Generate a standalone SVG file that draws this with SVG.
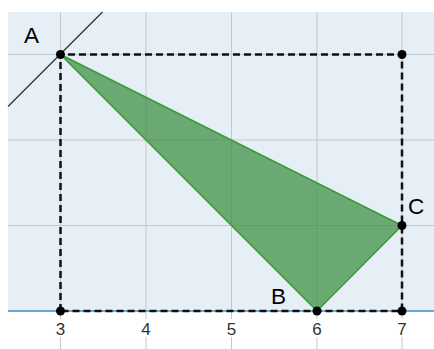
<svg xmlns="http://www.w3.org/2000/svg" width="434" height="349" viewBox="0 0 434 349">
<style>
.grid{stroke:#c4c8cc;stroke-width:1}
.dash{stroke:#111;stroke-width:2.5;stroke-dasharray:7,4;fill:none}
.dot{fill:#000}
.lbl{font-family:"Liberation Sans",Arial,sans-serif;font-size:22.5px;fill:#000}
.num{font-family:"Liberation Sans",Arial,sans-serif;font-size:17px;fill:#333;text-anchor:middle}
</style>
<rect x="0" y="0" width="434" height="349" fill="#ffffff"/>
<rect x="8" y="12" width="426" height="299" fill="#e6eef6"/>
<g id="grid">
<line class="grid" x1="60.5" y1="12" x2="60.5" y2="349"/>
<line class="grid" x1="146" y1="12" x2="146" y2="349"/>
<line class="grid" x1="231.5" y1="12" x2="231.5" y2="349"/>
<line class="grid" x1="317" y1="12" x2="317" y2="349"/>
<line class="grid" x1="402" y1="12" x2="402" y2="349"/>
<line class="grid" x1="8" y1="54.5" x2="434" y2="54.5"/>
<line class="grid" x1="8" y1="140" x2="434" y2="140"/>
<line class="grid" x1="8" y1="225.5" x2="434" y2="225.5"/>
</g>
<line x1="8" y1="311" x2="434" y2="311" stroke="#3d8fc0" stroke-width="1.5"/>
<g id="axis-labels">
<rect x="54" y="319" width="13" height="18" fill="#fff"/>
<rect x="140" y="319" width="13" height="18" fill="#fff"/>
<rect x="225" y="319" width="13" height="18" fill="#fff"/>
<rect x="311" y="319" width="13" height="18" fill="#fff"/>
<rect x="396" y="319" width="13" height="18" fill="#fff"/>
<text class="num" x="60.5" y="335">3</text>
<text class="num" x="146" y="335">4</text>
<text class="num" x="231.5" y="335">5</text>
<text class="num" x="317" y="335">6</text>
<text class="num" x="402" y="335">7</text>
</g>
<g id="line-through-A">
<line x1="8" y1="106.5" x2="102.5" y2="12" stroke="#333" stroke-width="1.3"/>
</g>
<g id="triangle">
<polygon points="60.5,54.5 317,311 402,225.5" fill="#3a8f3e" fill-opacity="0.72" stroke="#3a9a3a" stroke-width="1.5"/>
</g>
<g id="connectors">
<polyline class="dash" points="60.5,311 60.5,54.5 402,54.5 402,311 60.5,311"/>
</g>
<g id="A"><circle class="dot" cx="60.5" cy="54.5" r="4.5"/><text class="lbl" x="24" y="43">A</text></g>
<g id="B"><circle class="dot" cx="317" cy="311" r="4.5"/><text class="lbl" x="271" y="304">B</text></g>
<g id="C"><circle class="dot" cx="402" cy="225.5" r="4.5"/><text class="lbl" x="408" y="214">C</text></g>
<g id="P1"><circle class="dot" cx="402" cy="54.5" r="4.5"/></g>
<g id="P2"><circle class="dot" cx="402" cy="311" r="4.5"/></g>
<g id="P3"><circle class="dot" cx="60.5" cy="311" r="4.5"/></g>
</svg>
